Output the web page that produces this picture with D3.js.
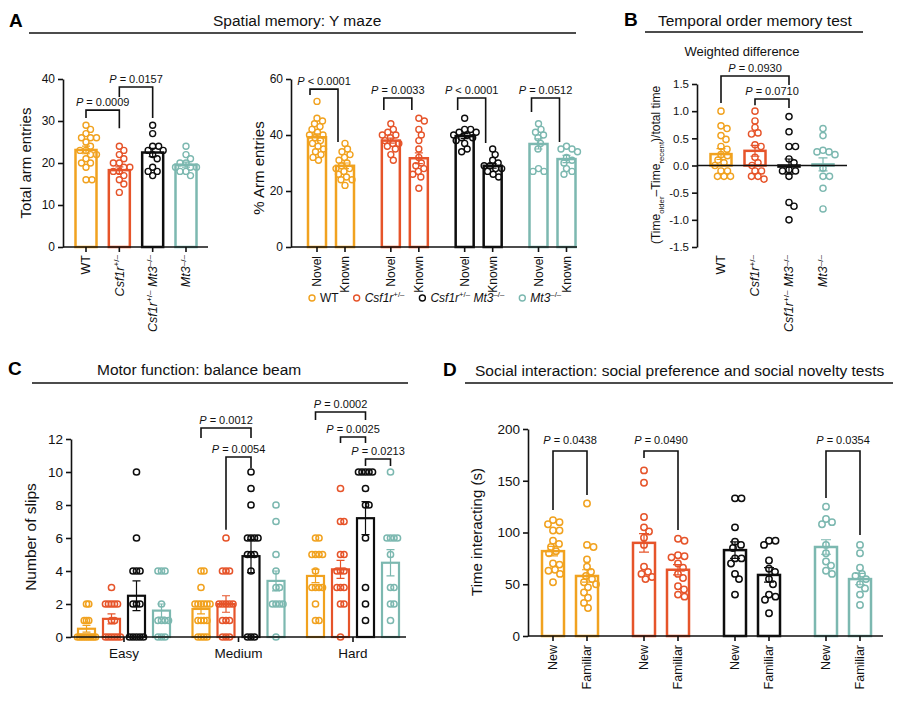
<!DOCTYPE html>
<html>
<head>
<meta charset="utf-8">
<script src="https://cdn.jsdelivr.net/npm/d3@7"></script>
<style>
  body { margin: 0; background: #fff; }
  svg { display: block; font-family: Arial, "Liberation Sans", Helvetica, sans-serif; }
</style>
</head>
<body>
<svg id="fig" width="900" height="705"></svg>
<script>
// ---- shared categories ----
const GENOTYPES = ["WT", "Csf1r", "Csf1rMt3", "Mt3"];
const GENO_COLORS = ["#f1a21f", "#e6542a", "#0d0d0d", "#7cb8b0"];
const GENO_PARTS = [
  [["WT"]],
  [["Csf1r", "i"], ["+/–", "sup"]],
  [["Csf1r", "i"], ["+/–", "sup"], [" Mt3", "i"], ["–/–", "sup"]],
  [["Mt3", "i"], ["–/–", "sup"]]
];

// ---- A: Y maze, total arm entries ----
const totalArmPoints = [
  [29, 28, 27, 26, 26, 26, 25, 24, 23, 23, 22, 22, 21, 20, 20, 19, 16, 16],
  [24, 23, 22, 21, 20, 20, 19, 19, 18, 18, 17, 16, 15, 13],
  [29, 27, 24, 24, 23, 23, 22, 21, 19, 18, 18, 17],
  [24, 22, 21, 20, 20, 19, 19, 19, 18, 18, 17]
];
const totalArmMean = [23.1, 18.3, 22.5, 19.6];
const totalArmSem = [0.9, 0.8, 1.0, 0.6];
// [from, to, bracket top, leg end from, leg end to, p]
const totalArmBrackets = [
  [0, 1, 32.6, 30.7, 28.3, "= 0.0009"],
  [1, 2, 38.1, 35.7, 30.7, "= 0.0157"]
];

// ---- A: Y maze, % arm entries ----
const ARMS = ["Novel", "Known"];
const armNovelPoints = [
  [52, 46, 45, 44, 43, 42, 41, 40, 40, 39, 38, 37, 36, 35, 34, 33, 32, 31],
  [44, 42, 41, 40, 40, 39, 38, 37, 37, 36, 35, 33, 31],
  [46, 42, 42, 41, 41, 40, 40, 39, 39, 38, 37, 35, 34],
  [44, 42, 41, 40, 39, 37, 35, 28, 27, 27]
];
const armKnownPoints = [
  [37, 35, 34, 33, 32, 31, 30, 29, 28, 28, 27, 26, 25, 24, 24, 22],
  [46, 45, 42, 40, 38, 35, 32, 30, 29, 28, 27, 26, 25, 21],
  [35, 33, 31, 30, 29, 29, 28, 28, 27, 26, 25],
  [36, 35, 35, 34, 32, 31, 30, 28, 27, 26]
];
const armNovelMean = [39.2, 38.0, 39.6, 36.8];
const armNovelSem = [1.2, 0.9, 0.9, 1.8];
const armKnownMean = [29.0, 31.7, 29.0, 31.4];
const armKnownSem = [1.0, 1.9, 0.8, 1.3];
// [genotype, bracket top, novel leg end, known leg end, p]
const armBrackets = [
  [0, 56.4, 54.3, 37.5, "< 0.0001"],
  [1, 53.2, 48.9, 48.9, "= 0.0033"],
  [2, 53.2, 48.9, 37.1, "< 0.0001"],
  [3, 53.2, 48.2, 37.5, "= 0.0512"]
];

// ---- B: temporal order, weighted difference ----
const weightedPoints = [
  [1.0, 0.73, 0.68, 0.55, 0.48, 0.35, 0.3, 0.2, 0.18, 0.1, 0.05, 0.0, -0.1, -0.1, -0.2, -0.2, -0.2],
  [1.0, 0.82, 0.7, 0.6, 0.58, 0.38, 0.35, 0.15, 0.05, 0.0, -0.1, -0.1, -0.2, -0.2, -0.25],
  [0.9, 0.62, 0.35, 0.35, 0.12, 0.05, -0.08, -0.1, -0.1, -0.2, -0.68, -0.75, -1.0],
  [0.68, 0.55, 0.28, 0.25, 0.25, 0.2, -0.05, -0.2, -0.2, -0.42, -0.8]
];
const weightedMean = [0.21, 0.27, -0.02, 0.02];
const weightedSem = [0.1, 0.1, 0.14, 0.12];
const weightedBrackets = [
  [0, 2, 1.647, 1.15, 1.48, "= 0.0930"],
  [1, 2, 1.224, 1.11, 1.06, "= 0.0710"]
];

// ---- C: balance beam slips ----
const DIFFICULTY = ["Easy", "Medium", "Hard"];
const slipsEasy = [
  [0, 0, 0, 0, 0, 0, 0, 0, 0, 1, 1, 1, 2, 2],
  [3, 2, 2, 2, 2, 2, 1, 1, 0, 0, 0, 0, 0, 0],
  [10, 6, 4, 4, 4, 2, 2, 2, 0, 0, 0, 0, 0],
  [4, 4, 4, 2, 1, 1, 1, 1, 0, 0, 0]
];
const slipsMedium = [
  [4, 4, 3, 2, 2, 2, 2, 2, 2, 1, 1, 1, 1, 0, 0, 0, 0],
  [6, 4, 4, 4, 2, 2, 2, 2, 2, 1, 1, 1, 0, 0, 0],
  [10, 9, 8, 6, 6, 6, 6, 5, 5, 5, 4, 0, 0, 0],
  [8, 7, 5, 4, 3, 3, 2, 2, 2, 2, 0]
];
const slipsHard = [
  [6, 6, 5, 5, 5, 5, 4, 3, 3, 3, 3, 2, 1, 1],
  [9, 7, 7, 5, 5, 4, 4, 4, 3, 3, 3, 2, 2, 0],
  [10, 10, 10, 10, 10, 9, 8, 8, 6, 3, 2, 1],
  [10, 6, 6, 6, 6, 5, 3, 3, 2, 2, 1]
];
const slipMean = [[0.5, 1.1, 2.5, 1.6], [1.7, 2.0, 4.9, 3.4], [3.7, 4.1, 7.2, 4.5]];
const slipSem = [[0.2, 0.3, 0.9, 0.4], [0.3, 0.5, 1.0, 0.6], [0.4, 0.55, 1.0, 0.8]];
// [difficulty, from, to, top, leg from, leg to, p]
const slipBrackets = [
  [1, 0, 2, 12.67, 12.06, 12.06, "= 0.0012"],
  [1, 1, 2, 10.91, 6.5, 10.24, "= 0.0054"],
  [2, 0, 2, 13.64, 13.15, 13.15, "= 0.0002"],
  [2, 1, 2, 12.12, 11.76, 11.76, "= 0.0025"],
  [2, 2, 3, 10.79, 10.36, 10.36, "= 0.0213"]
];

// ---- D: social interaction ----
const PARTNERS = ["New", "Familiar"];
const socialNewPoints = [
  [112, 110, 108, 102, 102, 92, 89, 86, 82, 80, 70, 69, 64, 63, 60, 52],
  [160, 148, 115, 105, 101, 95, 88, 67, 62, 60, 57, 55],
  [133, 133, 105, 91, 88, 85, 75, 75, 70, 60, 55, 40],
  [125, 113, 110, 108, 88, 80, 72, 68, 63, 60]
];
const socialFamiliarPoints = [
  [128, 88, 86, 74, 67, 62, 58, 55, 52, 50, 47, 42, 37, 32, 27],
  [94, 92, 78, 77, 76, 70, 66, 60, 56, 48, 45, 40, 38],
  [92, 92, 88, 73, 65, 62, 55, 50, 40, 38, 35, 22],
  [88, 80, 66, 60, 58, 55, 50, 46, 40, 30]
];
const socialNewMean = [82, 90, 83, 86];
const socialNewSem = [4.5, 9, 8, 7];
const socialFamiliarMean = [58, 64, 59, 55];
const socialFamiliarSem = [6, 5, 7, 5.5];
// [genotype, top, new leg end, familiar leg end, p]
const socialBrackets = [
  [0, 178.7, 121.7, 136.2, "= 0.0438"],
  [1, 178.7, 172, 102.4, "= 0.0490"],
  [3, 178.7, 133.3, 97.6, "= 0.0354"]
];

// =====================================================================
const svg = d3.select("#fig");
const INK = "#111";

// simple beeswarm: x offsets so circles do not collide (gap < 1 lets them overlap)
function swarm(vals, y, r, gap) {
  const minD = 2 * r * gap;
  const placed = [];
  const offs = new Array(vals.length);
  vals.map((v, i) => [y(v), i]).sort((a, b) => a[0] - b[0]).forEach(([py, i]) => {
    for (let k = 0; k < 400; k++) {
      const dx = (k % 2 ? 1 : -1) * Math.ceil(k / 2) * 0.5;
      if (placed.every(q => (q[0] - dx) ** 2 + (q[1] - py) ** 2 >= minD * minD)) {
        placed.push([dx, py]);
        offs[i] = dx;
        break;
      }
    }
  });
  return offs;
}

function rich(text, parts, fs) {
  let back = 0;
  parts.forEach(([s, kind]) => {
    const t = text.append("tspan").text(s);
    if (kind === "i") t.attr("font-style", "italic");
    if (kind === "sup" || kind === "sub") {
      const sh = kind === "sup" ? -0.38 * fs : 0.28 * fs;
      t.attr("font-size", 0.65 * fs).attr("dy", sh);
      back = -sh;
    } else if (back) {
      t.attr("dy", back);
      back = 0;
    }
  });
}

function drawSets(g, sets, y, o) {
  const base = y(0);
  sets.forEach(s => {
    const ym = y(s.mean);
    g.append("rect")
      .attr("x", s.cx - o.bw / 2).attr("width", o.bw)
      .attr("y", Math.min(ym, base)).attr("height", Math.max(Math.abs(base - ym), 0.5))
      .attr("fill", "none").attr("stroke", s.color).attr("stroke-width", o.bsw);
    let offs = swarm(s.pts, y, o.r, o.gap);
    const m = d3.max(offs, Math.abs);
    if (o.spread && m > o.spread) offs = offs.map(d => d * o.spread / m);
    g.append("g").selectAll("circle").data(s.pts).join("circle")
      .attr("cx", (d, i) => s.cx + offs[i]).attr("cy", d => y(d)).attr("r", o.r)
      .attr("fill", "none").attr("stroke", s.color).attr("stroke-width", o.psw);
    const lo = y(s.mean - s.sem), hi = y(s.mean + s.sem), cw = o.cap;
    g.append("path")
      .attr("d", `M${s.cx},${lo}V${hi}M${s.cx - cw},${hi}H${s.cx + cw}M${s.cx - cw},${lo}H${s.cx + cw}`)
      .attr("fill", "none").attr("stroke", s.color).attr("stroke-width", 1.2);
  });
}

function yAxisAt(g, y, x0, ticks, fmt, fs) {
  const ax = g.append("g").attr("transform", `translate(${x0},0)`)
    .call(d3.axisLeft(y).tickValues(ticks).tickFormat(fmt).tickSize(5).tickSizeOuter(0).tickPadding(3));
  ax.select(".domain").attr("stroke", INK).attr("stroke-width", 1.6);
  ax.selectAll(".tick line").attr("stroke", INK).attr("stroke-width", 1.6);
  ax.selectAll(".tick text").attr("font-size", fs).attr("fill", INK)
    .attr("font-family", "Arial, 'Liberation Sans', Helvetica, sans-serif");
}

function xBase(g, y0, x0, x1, tickXs) {
  g.append("line").attr("x1", x0).attr("x2", x1).attr("y1", y0).attr("y2", y0)
    .attr("stroke", INK).attr("stroke-width", 1.6);
  g.append("g").selectAll("line").data(tickXs).join("line")
    .attr("x1", d => d).attr("x2", d => d).attr("y1", y0).attr("y2", y0 + 5)
    .attr("stroke", INK).attr("stroke-width", 1.6);
}

function vLabel(g, x, top, parts, fs) {
  const t = g.append("text")
    .attr("transform", `translate(${x + fs * 0.35},${top}) rotate(-90)`)
    .attr("text-anchor", "end").attr("font-size", fs).attr("fill", INK);
  rich(t, parts, fs);
}

function yTitle(g, x, y, parts, fs) {
  const t = g.append("text")
    .attr("transform", `translate(${x + fs * 0.35},${y}) rotate(-90)`)
    .attr("text-anchor", "middle").attr("font-size", fs).attr("fill", INK);
  rich(t, parts, fs);
}

function bracket(g, y, xa, xb, top, la, lb, p, off) {
  g.append("path")
    .attr("d", `M${xa},${y(la)}V${y(top)}H${xb}V${y(lb)}`)
    .attr("fill", "none").attr("stroke", INK).attr("stroke-width", 1.6);
  const t = g.append("text").attr("x", (xa + xb) / 2).attr("y", y(top) - off)
    .attr("text-anchor", "middle").attr("font-size", 11).attr("fill", INK);
  t.append("tspan").attr("font-style", "italic").text("P");
  t.append("tspan").text(" " + p);
}

function heading(letter, lx, ly, title, tx, ty, ux0, ux1, uy) {
  svg.append("text").attr("x", lx).attr("y", ly).attr("font-size", 19)
    .attr("font-weight", 700).attr("fill", "#000").text(letter);
  svg.append("text").attr("x", tx).attr("y", ty).attr("font-size", 15.5)
    .attr("fill", INK).text(title);
  svg.append("line").attr("x1", ux0).attr("x2", ux1).attr("y1", uy).attr("y2", uy)
    .attr("stroke", INK).attr("stroke-width", 1.6);
}

const fmtInt = d => d;

// ---------------- Panel A ----------------
heading("A", 9, 27, "Spatial memory: Y maze", 213, 26, 29, 576, 33);

const gA1 = svg.append("g");
const xA1 = d3.scalePoint().domain(GENOTYPES).range([86, 186]);
const yA1 = d3.scaleLinear().domain([0, 40]).range([247, 79]);
drawSets(gA1, GENOTYPES.map((k, i) => ({
  cx: xA1(k), color: GENO_COLORS[i], mean: totalArmMean[i], sem: totalArmSem[i], pts: totalArmPoints[i]
})), yA1, { bw: 21, bsw: 2.5, r: 3, psw: 1.4, gap: 1, cap: 4 });
yAxisAt(gA1, yA1, 63, d3.range(0, 41, 10), fmtInt, 12);
xBase(gA1, 247, 63, 208, GENOTYPES.map(xA1));
GENOTYPES.forEach((k, i) => vLabel(gA1, xA1(k), 255, GENO_PARTS[i], 12.5));
yTitle(gA1, 26, 163, [["Total arm entries"]], 15);
totalArmBrackets.forEach(b => bracket(gA1, yA1, xA1(GENOTYPES[b[0]]), xA1(GENOTYPES[b[1]]), b[2], b[3], b[4], b[5], 4));

const gA2 = svg.append("g");
const xA2 = d3.scalePoint().domain(GENOTYPES).range([331, 552.5]);
const xA2in = d3.scaleBand().domain(ARMS).range([-28, 28]);
const yA2 = d3.scaleLinear().domain([0, 60]).range([247, 79]);
const armSets = [];
GENOTYPES.forEach((k, i) => {
  armSets.push({ cx: xA2(k) + xA2in("Novel") + xA2in.bandwidth() / 2, color: GENO_COLORS[i],
    mean: armNovelMean[i], sem: armNovelSem[i], pts: armNovelPoints[i], lab: "Novel" });
  armSets.push({ cx: xA2(k) + xA2in("Known") + xA2in.bandwidth() / 2, color: GENO_COLORS[i],
    mean: armKnownMean[i], sem: armKnownSem[i], pts: armKnownPoints[i], lab: "Known" });
});
drawSets(gA2, armSets, yA2, { bw: 18, bsw: 2.5, r: 3, psw: 1.4, gap: 1, cap: 4 });
yAxisAt(gA2, yA2, 291, d3.range(0, 61, 20), fmtInt, 12);
xBase(gA2, 247, 291, 577, armSets.map(s => s.cx));
armSets.forEach(s => vLabel(gA2, s.cx, 256, [[s.lab]], 12));
yTitle(gA2, 259, 168, [["% Arm entries"]], 15);
armBrackets.forEach(b => {
  const c = xA2(GENOTYPES[b[0]]);
  bracket(gA2, yA2, c + xA2in("Novel") + 7, c + xA2in("Known") + 7, b[1], b[2], b[3], b[4], 4);
});

// legend
const leg = svg.append("g");
let lx = 312;
GENOTYPES.forEach((k, i) => {
  leg.append("circle").attr("cx", lx).attr("cy", 298).attr("r", 3)
    .attr("fill", "none").attr("stroke", GENO_COLORS[i]).attr("stroke-width", 1.4);
  const t = leg.append("text").attr("x", lx + 8).attr("y", 302).attr("font-size", 12).attr("fill", INK);
  rich(t, GENO_PARTS[i], 12);
  lx += 8 + t.node().getComputedTextLength() + 18;
});

// ---------------- Panel B ----------------
heading("B", 624, 26, "Temporal order memory test", 658, 26, 645, 863, 32);
const gB = svg.append("g");
gB.append("text").attr("x", 742).attr("y", 56).attr("text-anchor", "middle")
  .attr("font-size", 13).attr("fill", INK).text("Weighted difference");
const xB = d3.scalePoint().domain(GENOTYPES).range([721, 823]);
const yB = d3.scaleLinear().domain([-1.5, 1.5]).range([247, 84]);
drawSets(gB, GENOTYPES.map((k, i) => ({
  cx: xB(k), color: GENO_COLORS[i], mean: weightedMean[i], sem: weightedSem[i], pts: weightedPoints[i]
})), yB, { bw: 21, bsw: 2.5, r: 3.1, psw: 1.4, gap: 1, cap: 4.5 });
yAxisAt(gB, yB, 697, d3.range(-1.5, 1.51, 0.5), d => d.toFixed(1), 11.5);
gB.append("line").attr("x1", 697).attr("x2", 847).attr("y1", yB(0)).attr("y2", yB(0))
  .attr("stroke", INK).attr("stroke-width", 1.6);
GENOTYPES.forEach((k, i) => vLabel(gB, xB(k), 255, GENO_PARTS[i], 12.5));
yTitle(gB, 656, 165, [["(Time"], ["older", "sub"], ["–Time"], ["recent", "sub"], [")/total time"]], 12);
weightedBrackets.forEach(b => bracket(gB, yB, xB(GENOTYPES[b[0]]), xB(GENOTYPES[b[1]]), b[2], b[3], b[4], b[5], 4));

// ---------------- Panel C ----------------
heading("C", 8, 375, "Motor function: balance beam", 97, 375, 32, 408, 383);
const gC = svg.append("g");
const xC = d3.scalePoint().domain(DIFFICULTY).range([124, 353]);
const xCin = d3.scaleBand().domain(GENOTYPES).range([-50, 50]);
const yC = d3.scaleLinear().domain([0, 12]).range([637, 439]);
const slipPoints = [slipsEasy, slipsMedium, slipsHard];
const cx = (d, k) => xC(DIFFICULTY[d]) + xCin(GENOTYPES[k]) + xCin.bandwidth() / 2;
const slipSets = [];
DIFFICULTY.forEach((dl, d) => GENOTYPES.forEach((k, i) => slipSets.push({
  cx: cx(d, i), color: GENO_COLORS[i], mean: slipMean[d][i], sem: slipSem[d][i], pts: slipPoints[d][i]
})));
drawSets(gC, slipSets, yC, { bw: 17, bsw: 2.2, r: 3.1, psw: 1.5, gap: 0.5, cap: 4, spread: 9 });
yAxisAt(gC, yC, 71, d3.range(0, 13, 2), fmtInt, 13.5);
xBase(gC, 637, 71, 406, DIFFICULTY.map(xC));
gC.append("g").selectAll("text").data(DIFFICULTY).join("text")
  .attr("x", d => xC(d)).attr("y", 658).attr("text-anchor", "middle")
  .attr("font-size", 13.5).attr("fill", INK).text(d => d);
yTitle(gC, 31, 537, [["Number of slips"]], 15.5);
slipBrackets.forEach(b => bracket(gC, yC, cx(b[0], b[1]), cx(b[0], b[2]), b[3], b[4], b[5], b[6], 4));

// ---------------- Panel D ----------------
heading("D", 443, 376, "Social interaction: social preference and social novelty tests", 475, 376, 465, 893, 383);
const gD = svg.append("g");
const xD = d3.scalePoint().domain(GENOTYPES).range([570, 843]);
const xDin = d3.scaleBand().domain(PARTNERS).range([-34, 34]);
const yD = d3.scaleLinear().domain([0, 200]).range([636, 429]);
const socialSets = [];
GENOTYPES.forEach((k, i) => {
  socialSets.push({ cx: xD(k) + xDin("New") + xDin.bandwidth() / 2, color: GENO_COLORS[i],
    mean: socialNewMean[i], sem: socialNewSem[i], pts: socialNewPoints[i], lab: "New" });
  socialSets.push({ cx: xD(k) + xDin("Familiar") + xDin.bandwidth() / 2, color: GENO_COLORS[i],
    mean: socialFamiliarMean[i], sem: socialFamiliarSem[i], pts: socialFamiliarPoints[i], lab: "Familiar" });
});
drawSets(gD, socialSets, yD, { bw: 22, bsw: 2.5, r: 3.2, psw: 1.5, gap: 1, cap: 5 });
yAxisAt(gD, yD, 528, d3.range(0, 201, 50), fmtInt, 13.5);
xBase(gD, 636, 528, 883, socialSets.map(s => s.cx));
socialSets.forEach(s => vLabel(gD, s.cx, 645, [[s.lab]], 12.5));
yTitle(gD, 477, 532, [["Time interacting (s)"]], 15);
socialBrackets.forEach(b => {
  const c = xD(GENOTYPES[b[0]]);
  bracket(gD, yD, c + xDin("New") + 17, c + xDin("Familiar") + 17, b[1], b[2], b[3], b[4], 7);
});
</script>
</body>
</html>
